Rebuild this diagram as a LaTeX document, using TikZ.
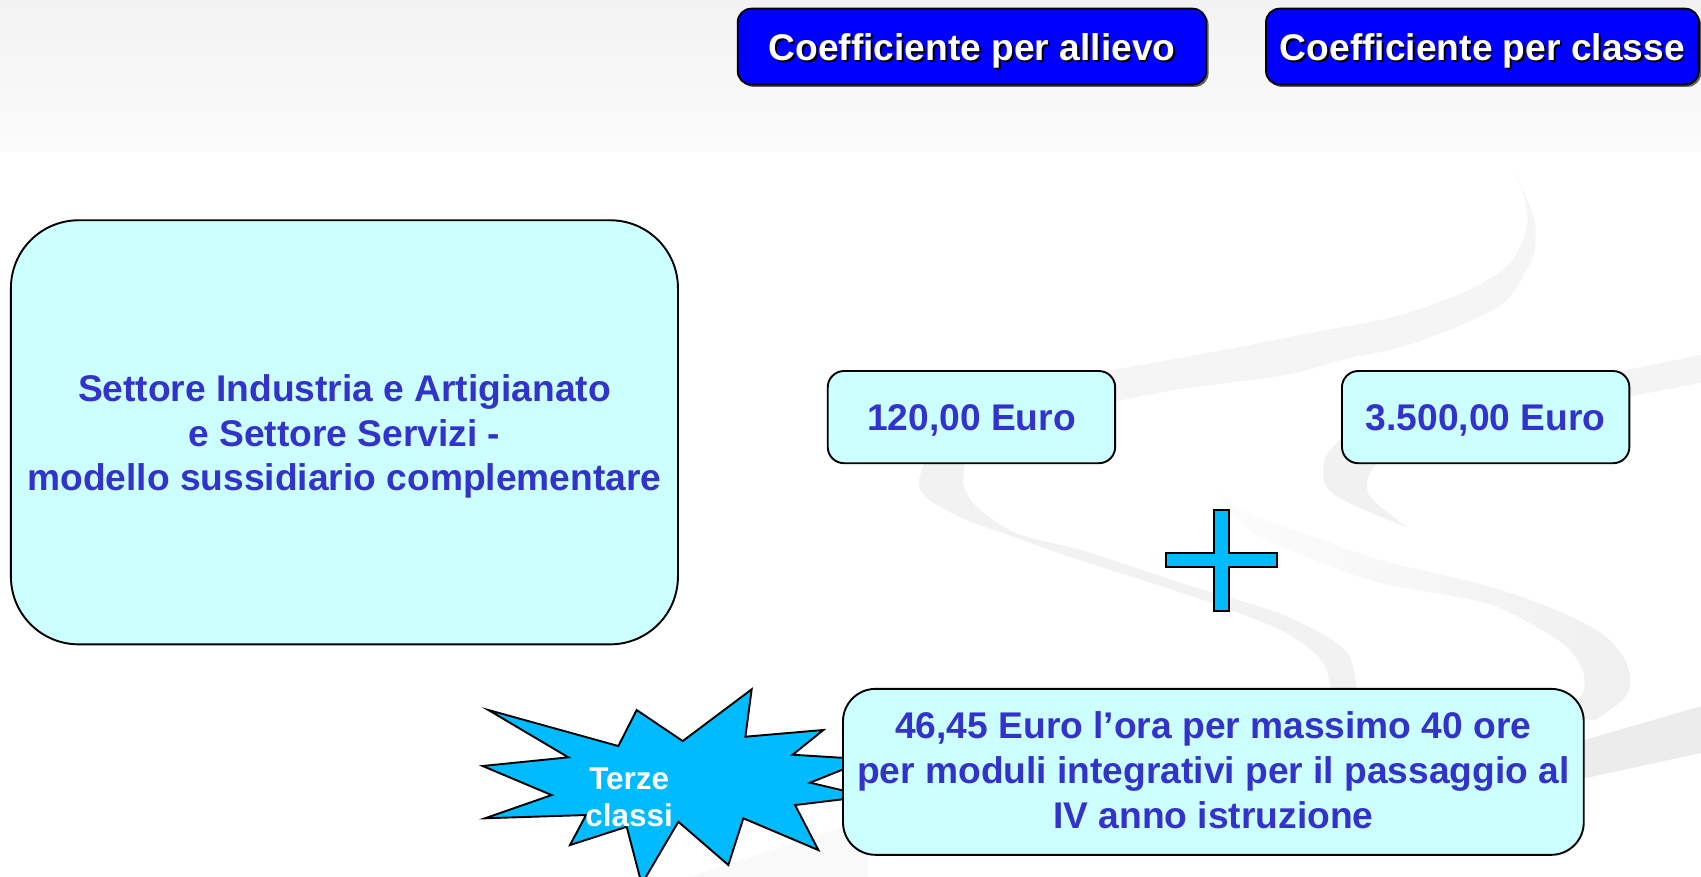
\documentclass[tikz,border=0pt]{standalone}
\usepackage{fontspec}
\setmainfont{Liberation Sans}
\usetikzlibrary{shadows}
\definecolor{txtblue}{RGB}{51,51,204}
\definecolor{lcyan}{RGB}{204,255,255}
\definecolor{hblue}{RGB}{0,0,255}
\definecolor{skyb}{RGB}{0,187,255}
\newcommand{\shtxt}[1]{\rlap{\kern0.9pt\raisebox{-0.9pt}{\color{black}#1}}#1}
\newcommand{\dnlines}[1]{\raisebox{-2.5pt}[\height][\depth]{\begin{tabular}{@{}c@{}}#1\end{tabular}}}
\begin{document}
\begin{tikzpicture}[x=0.02cm,y=-0.02cm,
  cbox/.style={draw=black, line width=1pt, fill=lcyan, text=txtblue,
    font=\bfseries\fontsize{19.5}{23.5}\selectfont, inner sep=0pt},
  hbox/.style={draw=black, line width=1pt, fill=hblue, text=white,
    font=\bfseries\fontsize{19.5}{23.5}\selectfont, inner sep=0pt,
    rounded corners=0.25cm, minimum height=1.4cm,
    drop shadow={shadow xshift=1.2pt, shadow yshift=-1.2pt, fill=black, opacity=0.6}},
  ribbon/.style={fill=gray!9, draw=none},
  burst/.style={draw=black, line width=1pt, fill=skyb, line join=miter},
  plusshape/.style={draw=black, line width=1pt, fill=skyb, line join=miter}]
\useasboundingbox (0,0) rectangle (1568,808);
% background band
\fill[white] (0,0) rectangle (1568,808);
\shade[top color=black!5, bottom color=black!1.5] (0,0) rectangle (1568,140);

% ribbons
\fill[ribbon, fill=gray!8] plot[smooth] coordinates {(1392.7,155.2) (1404.1,175.2) (1413.7,199.8) (1415.6,218.2) (1411.8,239.7) (1388.8,276.5) (1350.6,298.0) (1293.2,319.6) (1235.8,331.9) (1186.0,345.7) (1082.7,359.5) (1000,376)}
  -- plot[smooth] coordinates {(1000,345) (1025.3,341.1) (1128.6,322.6) (1197.5,308.8) (1285.5,291.9) (1350.6,268.9) (1388.8,245.9) (1404.1,221.2) (1408.0,199.8) (1402.3,172.1) (1392.7,155.2)} -- cycle;
\fill[ribbon, fill=gray!10] plot[smooth] coordinates {(856,415) (847,445) (857,461) (890,479) (935,495) (985,513) (1091,547) (1170,576) (1205,596) (1222,615) (1228,645)}
  -- plot[smooth] coordinates {(1252,645) (1245,607) (1225,588) (1178,565) (1091,538) (1000,508) (938,492) (900,467) (888,445) (892,415)} -- cycle;
\fill[ribbon, fill=gray!9] plot[smooth] coordinates {(1480,345) (1520,337) (1568,327)}
  -- plot[smooth] coordinates {(1568,353) (1520,362) (1480,370)} -- cycle;
\fill[ribbon, fill=gray!11] plot[smooth] coordinates {(1240,400) (1222,421) (1220,442) (1229,455) (1251,467) (1297,486)}
  -- plot[smooth] coordinates {(1272,467) (1261,454) (1261,440) (1269,427) (1280,410)} -- cycle;
\shade[left color=gray!2, right color=gray!12] plot[smooth] coordinates {(1122,452) (1152,474) (1214,496) (1275,517) (1367,539) (1429,560) (1475,583) (1496,605) (1503,627) (1496,645) (1470,664)}
  -- plot[smooth] coordinates {(1440,660) (1459,639) (1459,618) (1444,596) (1413,576) (1367,555) (1275,538) (1214,517) (1152,489) (1122,452)} -- cycle;
\fill[ribbon, fill=gray!15] (1440,688) -- (1568,651) -- (1568,694) -- (1440,722) -- cycle;
\fill[ribbon, fill=gray!5] (600,820) -- (800,755) -- (800,820) -- cycle;

% headers
\node[hbox, minimum width=8.64cm] (h1) at (896,43) {\dnlines{\shtxt{Coefficiente per allievo}}};
\node[hbox, minimum width=7.98cm] (h2) at (1366.5,43) {\dnlines{\shtxt{Coefficiente per classe}}};

% main boxes
\node[cbox, rounded corners=1.25cm, minimum width=12.3cm, minimum height=7.82cm] (settore) at (317.5,398.5)
  {\dnlines{Settore Industria e Artigianato\\e Settore Servizi -\\modello sussidiario complementare}};
\node[cbox, rounded corners=0.3cm, minimum width=5.3cm, minimum height=1.7cm] (allievo) at (895.5,384.5) {\dnlines{120,00 Euro}};
\node[cbox, rounded corners=0.3cm, minimum width=5.3cm, minimum height=1.7cm] (classe) at (1369.5,384.5) {\dnlines{3.500,00 Euro}};

% plus sign
\draw[plusshape] (1119,470) -- (1133,470) -- (1133,510) -- (1177,510) -- (1177,523) -- (1133,523) -- (1133,563) -- (1119,563) -- (1119,523) -- (1075,523) -- (1075,510) -- (1119,510) -- cycle;

% starburst
\draw[burst] (450.2,654.5) -- (570.0,687.7) -- (586.9,654.5) -- (629.3,683.1) -- (692.9,635.4) -- (687.1,679.1) -- (759.0,672.9) -- (730.7,695.7) -- (800,700) -- (746.7,721.5) -- (800,734) -- (732.9,742.1) -- (754.4,783.6) -- (685.2,754.3) -- (671.4,797.4) -- (625.3,757.5) -- (591.5,815) -- (577.7,762.1) -- (525.4,779.0) -- (540.2,751.3) -- (447.1,754.3) -- (508.5,732.9) -- (444.9,706.1) -- (523.9,698.1) -- cycle;
\node[text=white, font=\bfseries\fontsize{16.5}{19.3}\selectfont, align=center, inner sep=0pt] (terze) at (580,735) {Terze\\classi};

% bottom box
\node[cbox, rounded corners=0.6cm, minimum width=13.66cm, minimum height=3.06cm] (ore) at (1118.5,711.5)
  {\raisebox{-1.5pt}[\height][\depth]{\begin{tabular}{@{}c@{}}46,45 Euro l’ora per massimo 40 ore\\per moduli integrativi per il passaggio al\\IV anno istruzione\end{tabular}}};
\end{tikzpicture}
\end{document}
